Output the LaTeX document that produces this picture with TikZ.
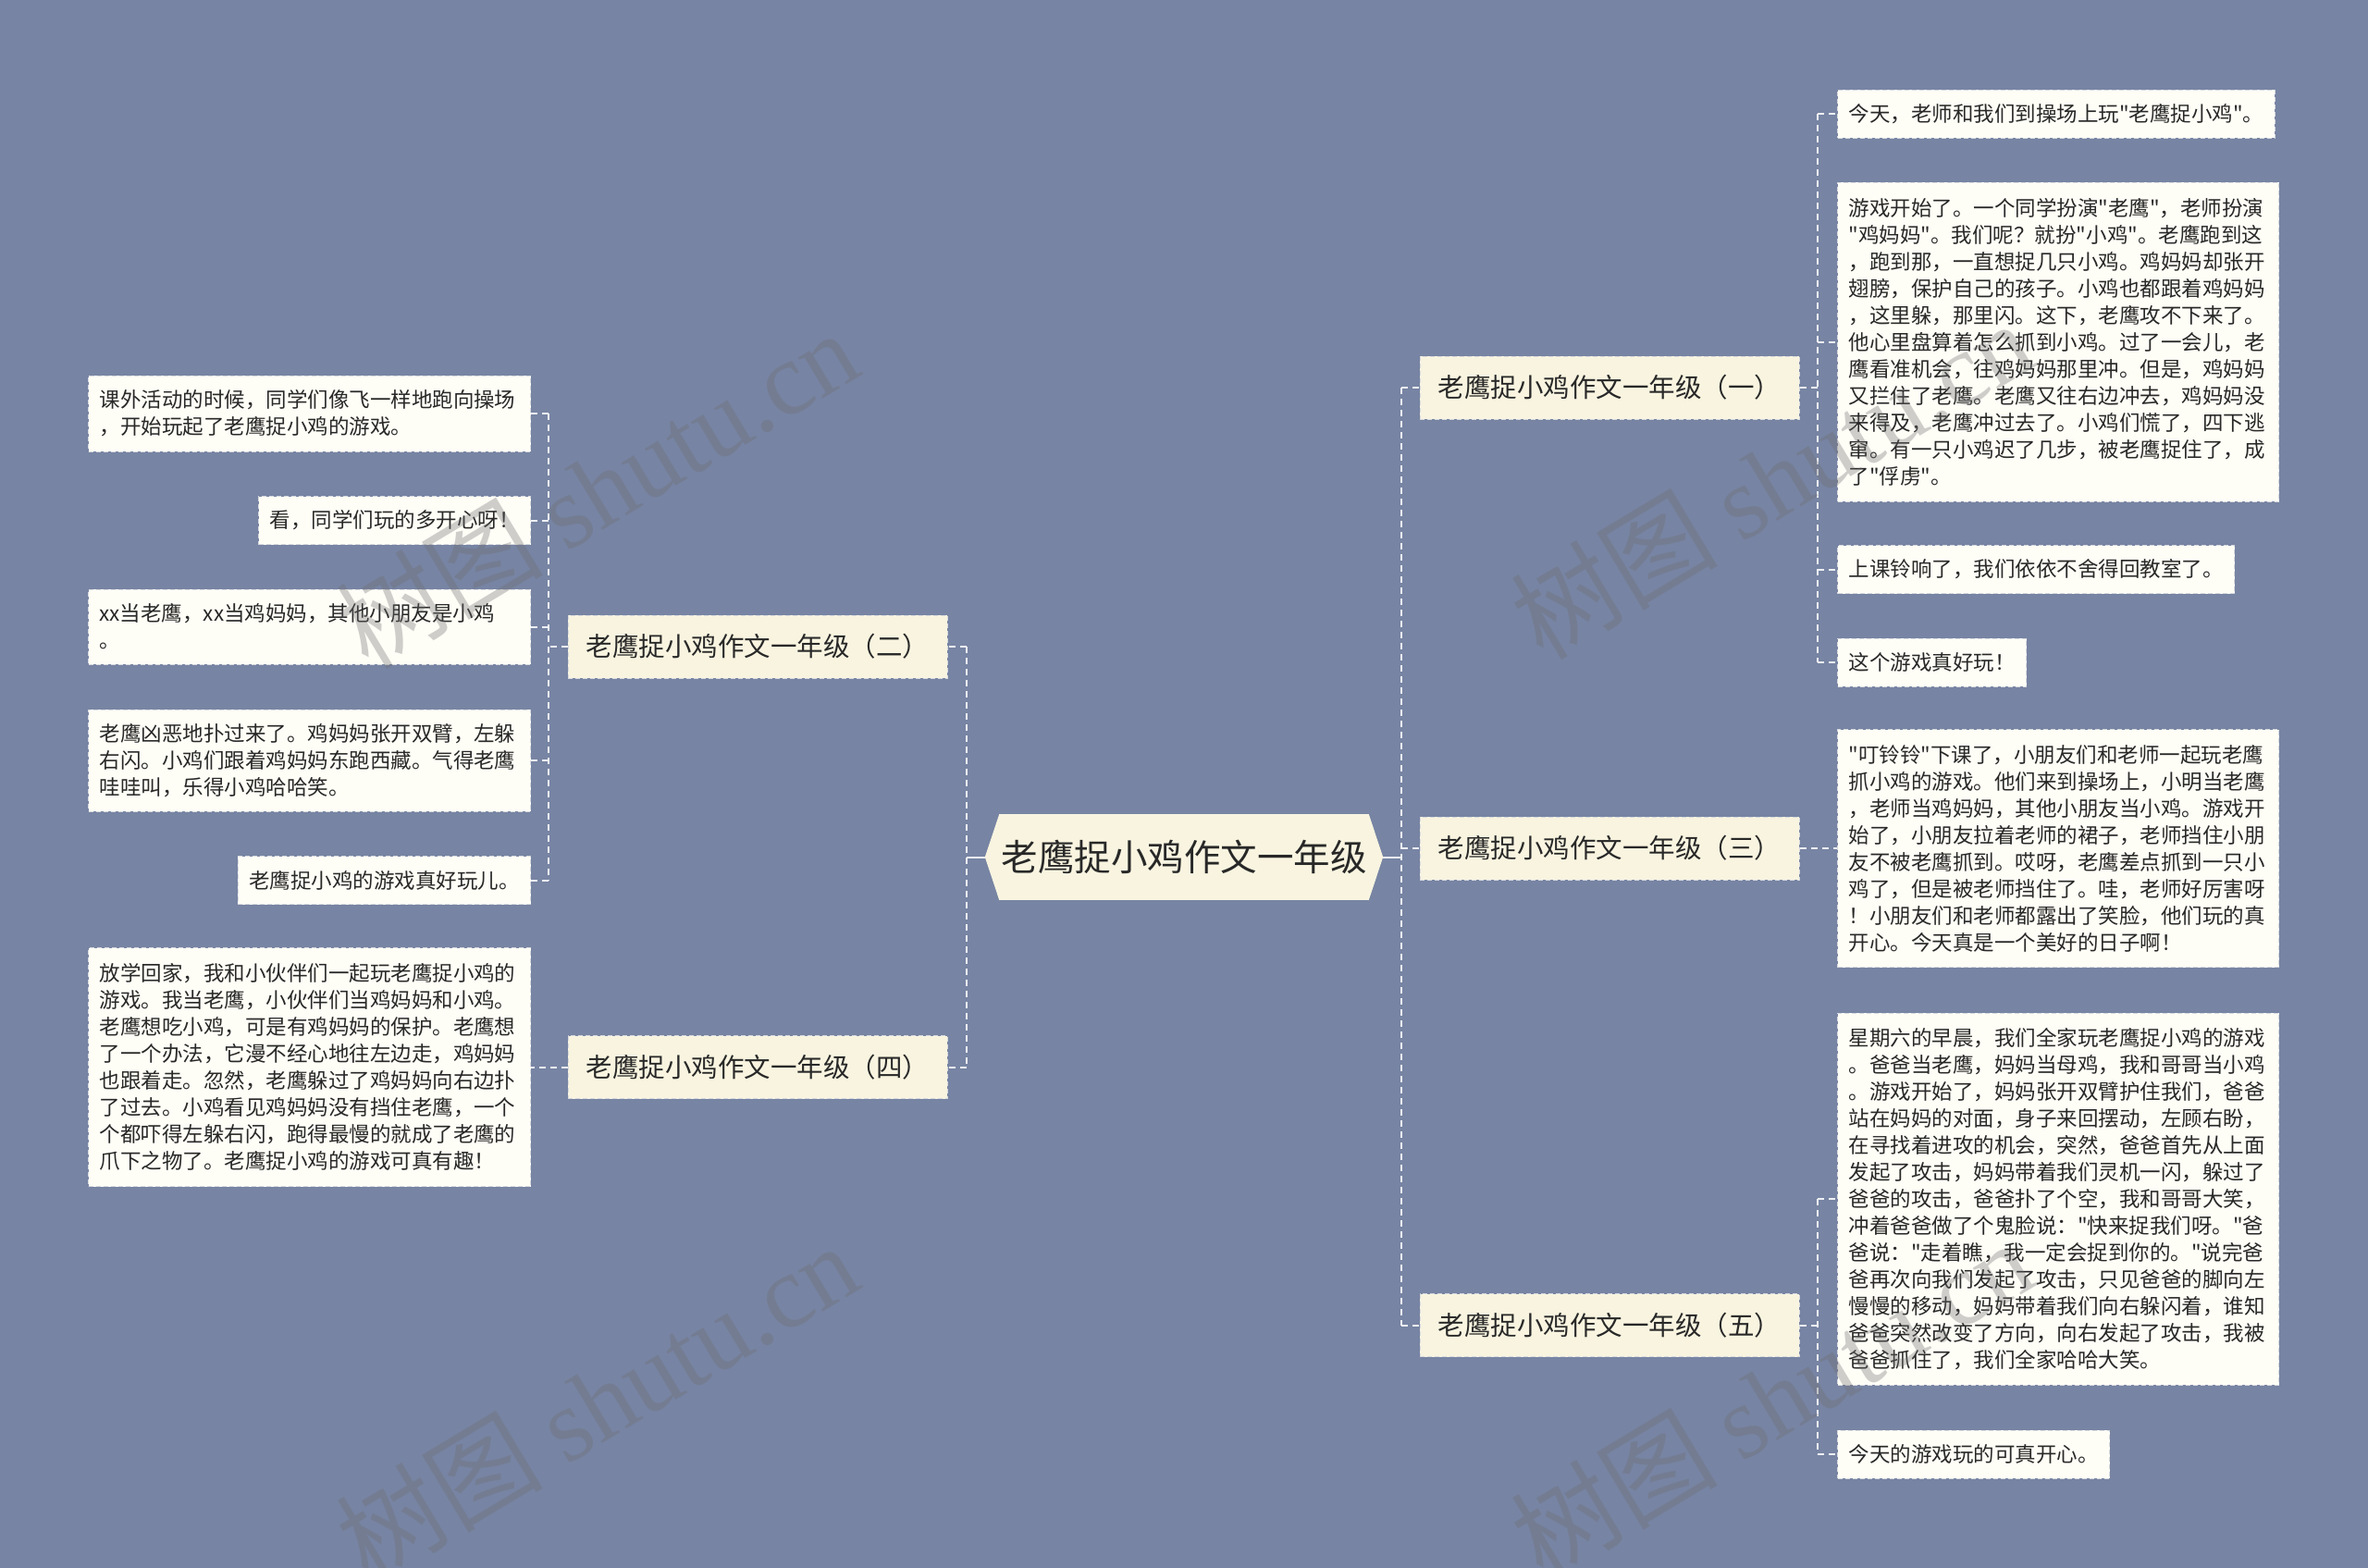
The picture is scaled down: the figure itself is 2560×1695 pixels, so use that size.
\documentclass[tikz,border=0pt]{standalone}
\usepackage{fontspec}
\setmainfont{Noto Sans CJK SC}[Ligatures=TeXOff]
\newfontfamily\wmlatin{Liberation Serif}[Ligatures=TeXOff]
\usetikzlibrary{calc}
\definecolor{bgc}{RGB}{119,132,163}
\definecolor{leaffill}{RGB}{254,253,246}
\definecolor{brfill}{RGB}{248,244,224}
\definecolor{linec}{RGB}{238,240,245}
\definecolor{bordc}{RGB}{215,217,222}
\definecolor{txt}{RGB}{40,40,40}
\definecolor{wmc}{RGB}{110,110,112}
\begin{document}
\begin{tikzpicture}[x=1pt,y=-1pt,
  leaf/.style={fill=leaffill, draw=bordc, dash pattern=on 5pt off 3pt, line width=1pt,
    text=txt, font=\fontsize{22.5}{29}\selectfont, align=left,
    inner xsep=12pt, inner ysep=0pt, minimum height=52pt},
  branch/.style={fill=brfill, draw=bordc, dash pattern=on 5pt off 3pt, line width=1pt,
    text=txt, font=\fontsize{28.5}{34}\selectfont,
    inner sep=0pt, minimum width=410pt, minimum height=68pt},
  rootnode/.style={fill=brfill, text=txt, font=\fontsize{39.5}{46}\selectfont,
    inner sep=0pt, text width=400pt, align=center, minimum height=93pt},
  conn/.style={draw=linec, line width=2pt, dash pattern=on 7pt off 5pt},
  solidc/.style={draw=linec, line width=2pt},
  wmark/.style={text=wmc, text opacity=0.33, font=\fontsize{112}{116}\selectfont, inner sep=0pt}
]
\useasboundingbox (0,0) rectangle (2560,1695);
\fill[bgc] (0,0) rectangle (2560,1695);

% root
\node[rootnode] (root) at (1280,926.5) {老鹰捉小鸡作文一年级};
\fill[brfill] ([xshift=-0.5pt]root.north east) -- ([xshift=15pt]root.east) -- ([xshift=-0.5pt]root.south east) -- cycle;
\fill[brfill] ([xshift=0.5pt]root.north west) -- ([xshift=-15pt]root.west) -- ([xshift=0.5pt]root.south west) -- cycle;
\coordinate (rootE) at ([xshift=15pt]root.east);
\coordinate (rootW) at ([xshift=-15pt]root.west);

% branches
\node[branch] (b1) at (1740,419) {老鹰捉小鸡作文一年级（一）};
\node[branch] (b3) at (1740,917) {老鹰捉小鸡作文一年级（三）};
\node[branch] (b5) at (1740,1432.5) {老鹰捉小鸡作文一年级（五）};
\node[branch] (b2) at (819,699) {老鹰捉小鸡作文一年级（二）};
\node[branch] (b4) at (819,1153.5) {老鹰捉小鸡作文一年级（四）};

% right leaves
\node[leaf, anchor=west] (r1) at (1986,123) {今天，老师和我们到操场上玩"老鹰捉小鸡"。};
\node[leaf, anchor=west, text width=453pt, minimum height=345pt] (r2) at (1986,369.5) {游戏开始了。一个同学扮演"老鹰"，老师扮演\\"鸡妈妈"。我们呢？就扮"小鸡"。老鹰跑到这\\，跑到那，一直想捉几只小鸡。鸡妈妈却张开\\翅膀，保护自己的孩子。小鸡也都跟着鸡妈妈\\，这里躲，那里闪。这下，老鹰攻不下来了。\\他心里盘算着怎么抓到小鸡。过了一会儿，老\\鹰看准机会，往鸡妈妈那里冲。但是，鸡妈妈\\又拦住了老鹰。老鹰又往右边冲去，鸡妈妈没\\来得及，老鹰冲过去了。小鸡们慌了，四下逃\\窜。有一只小鸡迟了几步，被老鹰捉住了，成\\了"俘虏"。};
\node[leaf, anchor=west] (r3) at (1986,615.5) {上课铃响了，我们依依不舍得回教室了。};
\node[leaf, anchor=west] (r4) at (1986,716) {这个游戏真好玩！};
\node[leaf, anchor=west, text width=453pt, minimum height=257pt] (r5) at (1986,917) {"叮铃铃"下课了，小朋友们和老师一起玩老鹰\\抓小鸡的游戏。他们来到操场上，小明当老鹰\\，老师当鸡妈妈，其他小朋友当小鸡。游戏开\\始了，小朋友拉着老师的裙子，老师挡住小朋\\友不被老鹰抓到。哎呀，老鹰差点抓到一只小\\鸡了，但是被老师挡住了。哇，老师好厉害呀\\！小朋友们和老师都露出了笑脸，他们玩的真\\开心。今天真是一个美好的日子啊！};
\node[leaf, anchor=west, text width=453pt, minimum height=402pt] (r6) at (1986,1296) {星期六的早晨，我们全家玩老鹰捉小鸡的游戏\\。爸爸当老鹰，妈妈当母鸡，我和哥哥当小鸡\\。游戏开始了，妈妈张开双臂护住我们，爸爸\\站在妈妈的对面，身子来回摆动，左顾右盼，\\在寻找着进攻的机会，突然，爸爸首先从上面\\发起了攻击，妈妈带着我们灵机一闪，躲过了\\爸爸的攻击，爸爸扑了个空，我和哥哥大笑，\\冲着爸爸做了个鬼脸说："快来捉我们呀。"爸\\爸说："走着瞧，我一定会捉到你的。"说完爸\\爸再次向我们发起了攻击，只见爸爸的脚向左\\慢慢的移动，妈妈带着我们向右躲闪着，谁知\\爸爸突然改变了方向，向右发起了攻击，我被\\爸爸抓住了，我们全家哈哈大笑。};
\node[leaf, anchor=west] (r7) at (1986,1572) {今天的游戏玩的可真开心。};

% left leaves
\node[leaf, anchor=east, text width=454pt, minimum height=82pt] (L1) at (574,447) {课外活动的时候，同学们像飞一样地跑向操场\\，开始玩起了老鹰捉小鸡的游戏。};
\node[leaf, anchor=east] (L2) at (574,562.5) {看，同学们玩的多开心呀！};
\node[leaf, anchor=east, text width=454pt, minimum height=81pt] (L3) at (574,677.5) {xx当老鹰，xx当鸡妈妈，其他小朋友是小鸡\\。};
\node[leaf, anchor=east, text width=454pt, minimum height=110pt] (L4) at (574,822) {老鹰凶恶地扑过来了。鸡妈妈张开双臂，左躲\\右闪。小鸡们跟着鸡妈妈东跑西藏。气得老鹰\\哇哇叫，乐得小鸡哈哈笑。};
\node[leaf, anchor=east] (L5) at (574,951.5) {老鹰捉小鸡的游戏真好玩儿。};
\node[leaf, anchor=east, text width=454pt, minimum height=258pt] (L6) at (574,1153.5) {放学回家，我和小伙伴们一起玩老鹰捉小鸡的\\游戏。我当老鹰，小伙伴们当鸡妈妈和小鸡。\\老鹰想吃小鸡，可是有鸡妈妈的保护。老鹰想\\了一个办法，它漫不经心地往左边走，鸡妈妈\\也跟着走。忽然，老鹰躲过了鸡妈妈向右边扑\\了过去。小鸡看见鸡妈妈没有挡住老鹰，一个\\个都吓得左躲右闪，跑得最慢的就成了老鹰的\\爪下之物了。老鹰捉小鸡的游戏可真有趣！};

% junctions
\coordinate (jR) at (1515,926.5);
\coordinate (jL) at (1045,926.5);
\coordinate (j1) at (1965,419);
\coordinate (j5) at (1965,1432.5);
\coordinate (j2) at (593,699);

% root connectors
\draw[solidc] (rootE) -- (jR);
\draw[solidc] (rootW) -- (jL);
\draw[conn] (jR |- b1.west) -- (jR |- b5.west);
\draw[conn] (jR |- b1.west) -- (b1.west);
\draw[conn] (jR |- b3.west) -- (b3.west);
\draw[conn] (jR |- b5.west) -- (b5.west);
\draw[conn] (jL |- b2.east) -- (jL |- b4.east);
\draw[conn] (jL |- b2.east) -- (b2.east);
\draw[conn] (jL |- b4.east) -- (b4.east);

% branch 1
\draw[conn] (b1.east) -- (j1);
\draw[conn] (j1 |- r1.west) -- (j1 |- r4.west);
\draw[conn] (j1 |- r1.west) -- (r1.west);
\draw[conn] (j1 |- r2.west) -- (r2.west);
\draw[conn] (j1 |- r3.west) -- (r3.west);
\draw[conn] (j1 |- r4.west) -- (r4.west);
% branch 3
\draw[conn] (b3.east) -- (r5.west);
% branch 5
\draw[conn] (b5.east) -- (j5);
\draw[conn] (j5 |- r6.west) -- (j5 |- r7.west);
\draw[conn] (j5 |- r6.west) -- (r6.west);
\draw[conn] (j5 |- r7.west) -- (r7.west);
% branch 2
\draw[conn] (b2.west) -- (j2);
\draw[conn] (j2 |- L1.east) -- (j2 |- L5.east);
\draw[conn] (j2 |- L1.east) -- (L1.east);
\draw[conn] (j2 |- L2.east) -- (L2.east);
\draw[conn] (j2 |- L3.east) -- (L3.east);
\draw[conn] (j2 |- L4.east) -- (L4.east);
\draw[conn] (j2 |- L5.east) -- (L5.east);
% branch 4
\draw[conn] (b4.west) -- (L6.east);

% watermarks
\node[wmark, rotate=31] (wm1) at (645,528) {树图 {\wmlatin shutu.cn}};
\node[wmark, rotate=31] (wm2) at (1915,518) {树图 {\wmlatin shutu.cn}};
\node[wmark, rotate=31] (wm3) at (645,1515) {树图 {\wmlatin shutu.cn}};
\node[wmark, rotate=31] (wm4) at (1915,1512) {树图 {\wmlatin shutu.cn}};
\end{tikzpicture}
\end{document}
